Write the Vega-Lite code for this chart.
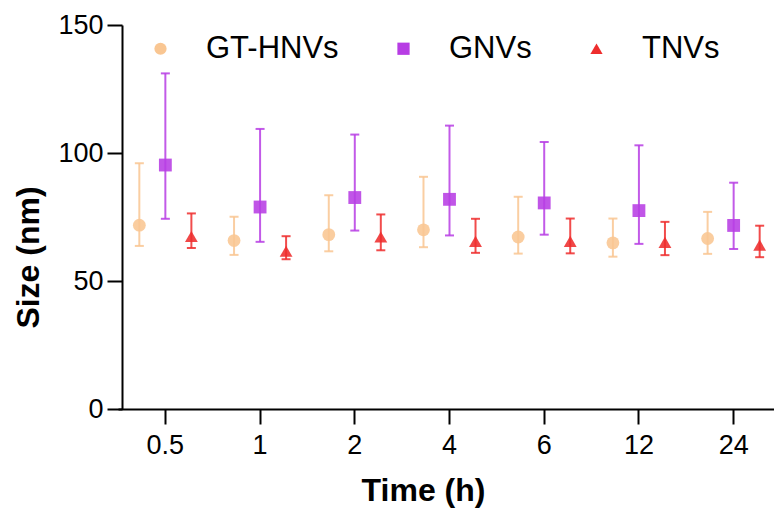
{
  "$schema": "https://vega.github.io/schema/vega-lite/v6.json",
  "width": 652,
  "height": 384,
  "autosize": {"type": "none"},
  "padding": {"left": 122, "top": 25, "right": 0, "bottom": 102},
  "background": "white",
  "data": {
    "values": [
      {"time": "0.5", "group": "GT-HNVs", "mean": 71.8, "lo": 63.7, "hi": 96.0},
      {"time": "0.5", "group": "GNVs", "mean": 95.3, "lo": 74.3, "hi": 131.1},
      {"time": "0.5", "group": "TNVs", "mean": 67.4, "lo": 62.9, "hi": 76.4},
      {"time": "1", "group": "GT-HNVs", "mean": 65.8, "lo": 60.2, "hi": 75.1},
      {"time": "1", "group": "GNVs", "mean": 78.9, "lo": 65.3, "hi": 109.4},
      {"time": "1", "group": "TNVs", "mean": 61.6, "lo": 58.5, "hi": 67.5},
      {"time": "2", "group": "GT-HNVs", "mean": 68.1, "lo": 61.6, "hi": 83.5},
      {"time": "2", "group": "GNVs", "mean": 82.6, "lo": 69.7, "hi": 107.2},
      {"time": "2", "group": "TNVs", "mean": 67.2, "lo": 62.0, "hi": 76.0},
      {"time": "4", "group": "GT-HNVs", "mean": 70.0, "lo": 63.2, "hi": 90.7},
      {"time": "4", "group": "GNVs", "mean": 81.9, "lo": 67.8, "hi": 110.7},
      {"time": "4", "group": "TNVs", "mean": 65.5, "lo": 61.0, "hi": 74.3},
      {"time": "6", "group": "GT-HNVs", "mean": 67.2, "lo": 60.7, "hi": 82.9},
      {"time": "6", "group": "GNVs", "mean": 80.5, "lo": 68.1, "hi": 104.3},
      {"time": "6", "group": "TNVs", "mean": 65.5, "lo": 60.8, "hi": 74.4},
      {"time": "12", "group": "GT-HNVs", "mean": 64.9, "lo": 59.5, "hi": 74.4},
      {"time": "12", "group": "GNVs", "mean": 77.5, "lo": 64.5, "hi": 103.0},
      {"time": "12", "group": "TNVs", "mean": 65.1, "lo": 60.1, "hi": 73.1},
      {"time": "24", "group": "GT-HNVs", "mean": 66.6, "lo": 60.6, "hi": 77.0},
      {"time": "24", "group": "GNVs", "mean": 71.7, "lo": 62.5, "hi": 88.4},
      {"time": "24", "group": "TNVs", "mean": 64.0, "lo": 59.3, "hi": 71.6}
    ]
  },
  "encoding": {
    "x": {
      "field": "time",
      "type": "nominal",
      "sort": ["0.5", "1", "2", "4", "6", "12", "24"],
      "scale": {"range": [-4, 659], "paddingInner": 0, "paddingOuter": 0},
      "axis": {
        "title": "Time (h)",
        "labelAngle": 0,
        "titleX": 301,
        "titleY": 91,
        "titleBaseline": "alphabetic",
        "titleAlign": "center",
        "labelPadding": 8
      }
    },
    "xOffset": {
      "field": "group",
      "type": "nominal",
      "sort": ["GT-HNVs", "GNVs", "TNVs"],
      "scale": {"paddingOuter": 0.32, "paddingInner": 0}
    },
    "color": {
      "field": "group",
      "type": "nominal",
      "sort": ["GT-HNVs", "GNVs", "TNVs"],
      "scale": {"domain": ["GT-HNVs", "GNVs", "TNVs"], "range": ["#F9C692", "#B73DE4", "#EE2D2D"]},
      "legend": {
        "title": null,
        "orient": "none",
        "legendX": 23,
        "legendY": 8,
        "direction": "horizontal",
        "columns": 3,
        "symbolSize": 150,
        "symbolOpacity": 1,
        "symbolStrokeWidth": 0,
        "labelOffset": 30,
        "columnPadding": 49,
        "padding": 0
      }
    }
  },
  "layer": [
    {
      "mark": {"type": "rule", "strokeWidth": 2, "opacity": 0.85},
      "encoding": {
        "y": {"field": "lo", "type": "quantitative"},
        "y2": {"field": "hi"}
      }
    },
    {
      "mark": {"type": "tick", "size": 9, "thickness": 2, "opacity": 0.85, "orient": "horizontal"},
      "encoding": {"y": {"field": "hi", "type": "quantitative"}}
    },
    {
      "mark": {"type": "tick", "size": 9, "thickness": 2, "opacity": 0.85, "orient": "horizontal"},
      "encoding": {"y": {"field": "lo", "type": "quantitative"}}
    },
    {
      "mark": {"type": "point", "filled": true, "opacity": 0.88, "size": 165},
      "encoding": {
        "y": {
          "field": "mean",
          "type": "quantitative",
          "scale": {"domain": [0, 150], "nice": false, "zero": true},
          "axis": {
            "title": "Size (nm)",
            "values": [0, 50, 100, 150],
            "titleAngle": 270,
            "titleX": -94,
            "titleY": 232,
            "titleAlign": "center",
            "titleBaseline": "middle",
            "labelPadding": 4
          }
        },
        "shape": {
          "field": "group",
          "type": "nominal",
          "sort": ["GT-HNVs", "GNVs", "TNVs"],
          "scale": {"domain": ["GT-HNVs", "GNVs", "TNVs"], "range": ["circle", "square", "triangle-up"]},
          "legend": {
            "title": null,
            "orient": "none",
            "legendX": 23,
            "legendY": 8,
            "direction": "horizontal",
            "columns": 3,
            "symbolSize": 150,
            "symbolOpacity": 1,
            "symbolStrokeWidth": 0,
            "labelOffset": 30,
            "columnPadding": 49,
            "padding": 0
          }
        }
      }
    }
  ],
  "config": {
    "view": {"stroke": null},
    "font": "Liberation Sans",
    "axis": {
      "grid": false,
      "domainColor": "black",
      "domainWidth": 2,
      "tickColor": "black",
      "tickWidth": 2,
      "tickSize": 15,
      "labelFont": "Liberation Sans",
      "labelFontSize": 27,
      "labelColor": "black",
      "titleFont": "Liberation Sans",
      "titleFontSize": 32,
      "titleFontWeight": "bold",
      "titleColor": "black"
    },
    "legend": {
      "labelFont": "Liberation Sans",
      "labelFontSize": 31,
      "labelColor": "black",
      "labelLimit": 300
    }
  }
}
